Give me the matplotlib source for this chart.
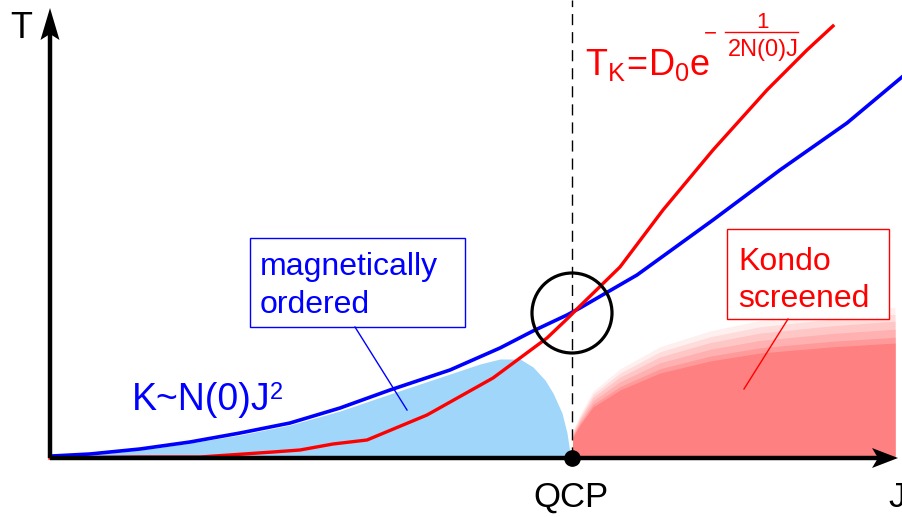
import matplotlib
matplotlib.use("Agg")
import matplotlib.pyplot as plt
from matplotlib.patches import Circle, Rectangle

plt.rcParams['font.family'] = ['Liberation Sans', 'DejaVu Sans']
plt.rcParams['mathtext.fontset'] = 'custom'
plt.rcParams['mathtext.rm'] = 'Liberation Sans'
plt.rcParams['mathtext.it'] = 'Liberation Sans:italic'

# Data (J, T) in arbitrary units, origin at the axes corner
rkky_J = [2, 40, 90, 140, 190, 240, 290, 340, 400, 450, 483, 517, 530, 587, 663, 730, 797, 852]
rkky_T = [2, 4, 9, 16, 25, 35, 50, 68, 88, 110, 127, 143, 150, 183, 238, 288, 335, 381]

kondo_J = [0, 90, 150, 223, 250, 283, 317, 377, 443, 470, 497, 517, 530, 570, 613, 663, 717, 757, 783]
kondo_T = [0, 1, 1, 6, 8, 14, 18, 43, 80, 100, 120, 139, 152, 191, 248, 308, 368, 408, 432]

# magnetically ordered dome
mag_J = [0, 40, 90, 140, 190, 240, 290, 340, 400, 430, 450, 470, 483, 495, 503, 512, 517, 520, 522]
mag_T = [2, 3, 8, 15, 23, 33, 47, 64, 84, 94, 99, 99, 91, 78, 65, 45, 25, 5, 0]

# Kondo screened region (darkest layer)
screen_J = [522, 523, 530, 543, 570, 610, 660, 710, 780, 845]
screen_T = [0, 21, 33, 51, 68, 85, 97, 105, 111, 115]
layer_scale = [1.31, 1.25, 1.19, 1.12, 1.05, 1.0]
layer_color = ['#fff0f0', '#ffdcdc', '#ffc6c6', '#ffb0b0', '#ff9a9a', '#ff8080']

J_qcp = 522
T_cross = 147
J_max = 848
T_max = 450

fig = plt.figure(figsize=(9.02, 5.17), dpi=100)
ax = fig.add_axes([0, 0, 1, 1])
ax.set_xlim(-50, 852)
ax.set_ylim(-59, 458)
ax.axis('off')

# shaded phases
ax.fill_between(mag_J, 0, mag_T, color='#a0d6fa', lw=0, zorder=1)
for s, c in zip(layer_scale, layer_color):
    ax.fill_between(screen_J, 0, [t * s for t in screen_T], color=c, lw=0, zorder=1)

# QCP dashed line
ax.plot([J_qcp, J_qcp], [0, 458], color='k', lw=1, ls=(0, (8, 5)), zorder=2)

# curves
ax.plot(rkky_J, rkky_T, color='#0000ff', lw=2.6, zorder=3, solid_joinstyle='round')
ax.plot(kondo_J, kondo_T, color='#ff0000', lw=2.4, zorder=3, solid_joinstyle='round')

# circle around crossing
ax.add_patch(Circle((J_qcp, T_cross - 2), 40, fill=False, ec='k', lw=2.3, zorder=4))

# axes with arrow heads
ax.plot([0, 0], [0, T_max - 20], color='k', lw=3.2, zorder=5, solid_capstyle='butt')
ax.plot([0, J_max - 20], [0, 0], color='k', lw=3.2, zorder=5, solid_capstyle='butt')
ax.fill([0, -9.5, 0, 9.5], [T_max, T_max - 32, T_max - 26, T_max - 32], color='k', lw=0, zorder=5)
ax.fill([J_max, J_max - 26, J_max - 20, J_max - 26], [0, 10, 0, -10], color='k', lw=0, zorder=5)
ax.plot([J_qcp], [0], 'o', color='k', ms=11, zorder=6)

# axis labels
ax.text(-29, 430, 'T', fontsize=26, ha='center', va='center')
ax.text(J_qcp - 1, -39.5, 'QCP', fontsize=25, ha='center', va='center')
ax.text(838, -39.5, 'J', fontsize=25, ha='left', va='center')

# RKKY label
ax.text(82, 48, 'K~N(0)J', fontsize=27, color='#0000ff', ha='left', va='baseline')
ax.text(220, 59, '2', fontsize=17, color='#0000ff', ha='left', va='baseline')

# Kondo formula
ax.text(535, 383, r'$\mathregular{T_K\!=\!D_0e}$', fontsize=26, color='#ff0000',
        ha='left', va='baseline')
ax.text(660.5, 419, '\u2212', fontsize=16, color='#ff0000', ha='center', va='baseline')
ax.text(712, 430, '1', fontsize=16, color='#ff0000', ha='center', va='baseline')
ax.plot([675, 748], [426, 426], color='#ff0000', lw=1)
ax.text(713, 402, '2N(0)J', fontsize=17, color='#ff0000', ha='center', va='baseline')

# label boxes
ax.add_patch(Rectangle((200, 131), 215, 89, fill=True, fc='white', ec='#0000ff', lw=1, zorder=7))
ax.text(210, 183, 'magnetically', fontsize=23, color='#0000ff', va='baseline', zorder=8)
ax.text(210, 145, 'ordered', fontsize=23, color='#0000ff', va='baseline', zorder=8)
ax.plot([305, 357], [131, 48], color='#0000ff', lw=1, zorder=7)

ax.add_patch(Rectangle((677, 139), 162, 90, fill=True, fc='white', ec='#ff0000', lw=1, zorder=7))
ax.text(688, 188, 'Kondo', fontsize=23, color='#ff0000', va='baseline', zorder=8)
ax.text(688, 151, 'screened', fontsize=23, color='#ff0000', va='baseline', zorder=8)
ax.plot([738, 694], [139, 69], color='#ff0000', lw=1, zorder=7)

fig.savefig('out.png', dpi=100)
